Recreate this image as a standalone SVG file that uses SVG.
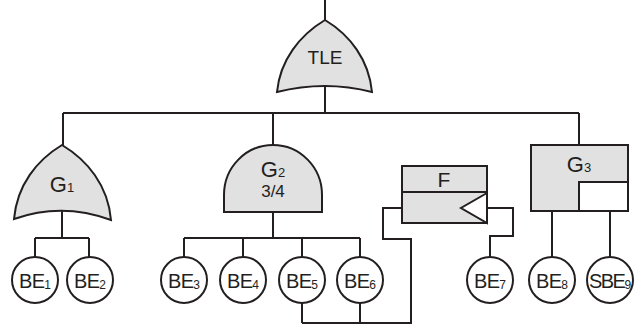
<svg xmlns="http://www.w3.org/2000/svg" width="638" height="326" viewBox="0 0 638 326">
<style>
.ln{fill:none;stroke:#231f20;stroke-width:2;stroke-linejoin:miter}
.gate{fill:#e1e1e1;stroke:#231f20;stroke-width:2}
.be{fill:#fff;stroke:#231f20;stroke-width:2}
.wh{fill:#fff;stroke:#231f20;stroke-width:2}
text{font-family:"Liberation Sans",Arial,sans-serif;fill:#231f20;text-anchor:middle}
.bt{font-size:20px;letter-spacing:-0.8px}
.sub{font-size:12px;letter-spacing:0}
.gt{font-size:22px}
.gs{font-size:13px}
</style>
<rect width="638" height="326" fill="#fff"/>
<g id="connectors">
<path class="ln" d="M325,0V20M325,86V113M63,113H579M63,113V145M273,113V145M579,113V145"/>
<path class="ln" d="M62,210V238M35,238H89M35,238V257M89,238V257"/>
<path class="ln" d="M273,212V238M184,238H360M184,238V257M243,238V257M302,238V257M360,238V257"/>
<path class="ln" d="M302,303V323M360,303V323M302,323H411V239H383V208H402"/>
<path class="ln" d="M487,208H513V236H490V257"/>
<path class="ln" d="M552,211V257M610,211V257"/>
</g>
<g id="TLE">
<path class="gate" d="M325,20C300,35 280,60 277,92Q325,80 372,92C369,60 350,35 325,20Z"/>
<text x="325" y="64" style="font-size:19px">TLE</text>
</g>
<g id="G1">
<path class="gate" d="M62,145C37,160 17,185 14,219Q62,202 111,220C108,185 87,160 62,145Z"/>
<text x="62" y="192" class="gt">G<tspan class="gs">1</tspan></text>
</g>
<g id="G2">
<path class="gate" d="M224,212V195A49,50 0 0 1 322,195V212Z"/>
<text x="273" y="177" class="gt">G<tspan class="gs">2</tspan></text>
<text x="273" y="197" style="font-size:17px">3/4</text>
</g>
<g id="F">
<rect class="gate" x="402" y="166" width="85" height="57"/>
<path class="ln" d="M402,192H487"/>
<path class="wh" d="M487,193L461,208L487,223Z"/>
<text x="444" y="187" style="font-size:21px">F</text>
</g>
<g id="G3">
<rect class="gate" x="531" y="145" width="97" height="66"/>
<rect class="wh" x="579" y="182" width="49" height="29"/>
<text x="579" y="172" class="gt">G<tspan class="gs">3</tspan></text>
</g>
<g id="BE1"><circle class="be" cx="35" cy="280" r="23"/><text x="35" y="288" class="bt">BE<tspan class="sub" dy="1">1</tspan></text></g>
<g id="BE2"><circle class="be" cx="90" cy="280" r="23"/><text x="90" y="288" class="bt">BE<tspan class="sub" dy="1">2</tspan></text></g>
<g id="BE3"><circle class="be" cx="184" cy="280" r="23"/><text x="184" y="288" class="bt">BE<tspan class="sub" dy="1">3</tspan></text></g>
<g id="BE4"><circle class="be" cx="243" cy="280" r="23"/><text x="243" y="288" class="bt">BE<tspan class="sub" dy="1">4</tspan></text></g>
<g id="BE5"><circle class="be" cx="302" cy="280" r="23"/><text x="302" y="288" class="bt">BE<tspan class="sub" dy="1">5</tspan></text></g>
<g id="BE6"><circle class="be" cx="360" cy="280" r="23"/><text x="360" y="288" class="bt">BE<tspan class="sub" dy="1">6</tspan></text></g>
<g id="BE7"><circle class="be" cx="490" cy="280" r="23"/><text x="490" y="288" class="bt">BE<tspan class="sub" dy="1">7</tspan></text></g>
<g id="BE8"><circle class="be" cx="552" cy="280" r="23"/><text x="552" y="288" class="bt">BE<tspan class="sub" dy="1">8</tspan></text></g>
<g id="SBE9"><circle class="be" cx="610" cy="280" r="23"/><text x="610" y="288" class="bt" style="letter-spacing:-1.5px">SBE<tspan class="sub" dy="1">9</tspan></text></g>
</svg>
